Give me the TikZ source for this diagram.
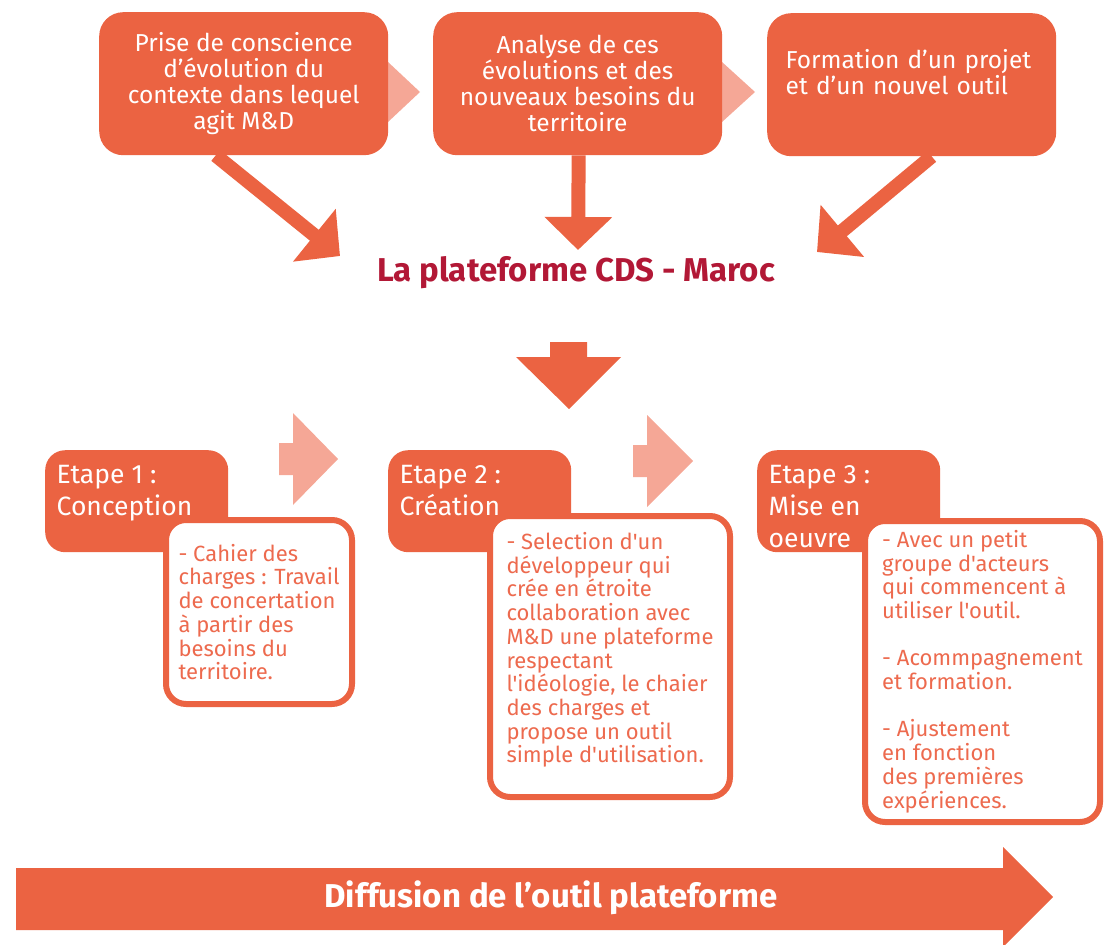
\documentclass[tikz,border=0pt]{standalone}
\usepackage{fontspec}
\setmainfont{Fira Sans}[Ligatures=TeXOff]
\usetikzlibrary{arrows.meta,positioning}
\definecolor{mdorange}{RGB}{235,99,66}
\definecolor{mdlight}{RGB}{245,167,150}
\definecolor{mdred}{RGB}{178,24,54}
\definecolor{mdtext}{RGB}{237,106,78}
\newcommand{\steptext}[1]{\parbox[t][72pt][t]{160pt}{\raggedright #1}}

\begin{document}
\begin{tikzpicture}[x=1pt,y=-1pt,
    topbox/.style={fill=mdorange, rounded corners=24pt, text=white,
        minimum width=289pt, minimum height=143pt, inner sep=0pt,
        font=\fontsize{24.5}{26}\selectfont, anchor=north west},
    stepbox/.style={fill=mdorange, rounded corners=20pt, text=white,
        minimum width=183pt, minimum height=102pt, inner sep=0pt,
        font=\fontsize{26.5}{32}\selectfont, anchor=north west},
    notebox/.style={draw=mdorange, line width=6pt, fill=white,
        rounded corners=20pt, text=mdtext, inner sep=0pt, align=left,
        font=\fontsize{22}{23.7}\selectfont, anchor=north west},
    fatarrow/.style={draw=mdorange, line width=14pt,
        -{Triangle[length=33pt,width=66pt]}},
    bigtext/.style={font=\fontsize{33}{36}\selectfont\bfseries},
    ]
    \useasboundingbox (0,0) rectangle (1104,945);
    % Chevrons behind the top boxes
    \fill[mdlight] (388,62) -- (420,92) -- (388,122) -- cycle;
    \fill[mdlight] (722,62) -- (755,92) -- (722,122) -- cycle;
    % Top boxes
    \node[topbox, align=center] (prise) at (99,12)
        {Prise de conscience\\d’évolution du\\contexte dans lequel\\agit M\&D};
    \node[topbox, align=center] (analyse) at (433,12)
        {Analyse de ces\\évolutions et des\\nouveaux besoins du\\territoire};
    \node[topbox, align=left, text width=252pt] (formation) at (767,13)
        {Formation d’un projet\\et d’un nouvel outil\\\mbox{}};
    %
    % Title and the arrows into it
    \node[bigtext, text=mdred] (cds) at (576,273) {La plateforme CDS - Maroc};
    \coordinate (tipA) at (340,256);
    \coordinate (tipB) at (578,250);
    \coordinate (tipC) at (817,252);
    \draw[fatarrow] ([xshift=-28pt]prise.south) -- (tipA);
    \draw[fatarrow] ([xshift=1pt]analyse.south) -- (tipB);
    \draw[fatarrow] ([xshift=20pt]formation.south) -- (tipC);
    %
    % Block arrow down to the steps
    \fill[mdorange] (550,342) -- (587,342) -- (587,357) -- (621,357)
        -- (569,409) -- (516,357) -- (550,357) -- cycle;
    % Light arrows between the steps
    \fill[mdlight] (279,443) -- (293,443) -- (293,413) -- (338,459)
        -- (293,505) -- (293,475) -- (279,475) -- cycle;
    \fill[mdlight] (633,445) -- (647,445) -- (647,415) -- (693,461)
        -- (647,507) -- (647,477) -- (633,477) -- cycle;
    %
    % Steps
    \node[stepbox] (etape1) at (45,450) {\steptext{Etape 1 :\\Conception}};
    \node[stepbox] (etape2) at (388,450) {\steptext{Etape 2 :\\Création}};
    \node[stepbox] (etape3) at (757,450) {\steptext{Etape 3 :\\Mise en\\oeuvre}};
    % Step notes
    \node[notebox, minimum width=186pt, minimum height=184pt] (note1) at (163,517)
        {- Cahier des\\charges : Travail\\de concertation\\à partir des\\besoins du\\territoire.};
    \node[notebox, minimum width=240pt, minimum height=281pt] (note2) at (487,513)
        {- Selection d'un\\développeur qui\\crée en étroite\\collaboration avec\\M\&D une plateforme\\respectant\\l'idéologie, le chaier\\des charges et\\propose un outil\\simple d'utilisation.\\[-6pt]\mbox{}};
    \node[notebox, minimum width=235pt, minimum height=301pt] (note3) at (862,518)
        {- Avec un petit\\groupe d'acteurs\\qui commencent à\\utiliser l'outil.\\[23.7pt]- Acommpagnement\\et formation.\\[23.7pt]- Ajustement\\en fonction\\des premières\\expériences.};
    %
    % Diffusion arrow
    \fill[mdorange] (16,868) -- (1003,868) -- (1003,847) -- (1053,897)
        -- (1003,947) -- (1003,930) -- (16,930) -- cycle;
    \node[bigtext, text=white] (diffusion) at (551,898) {Diffusion de l’outil plateforme};
\end{tikzpicture}
\end{document}
